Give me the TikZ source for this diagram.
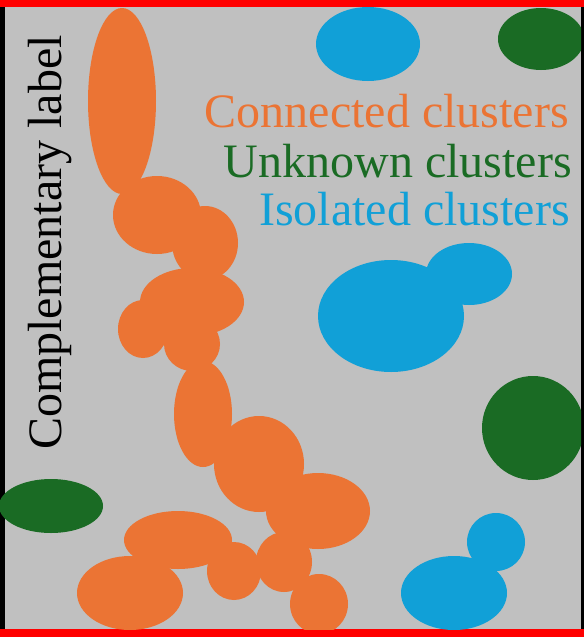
\documentclass[tikz,border=0pt]{standalone}
\usepackage{fontspec}
\setmainfont{Liberation Serif}
\usepackage{tikz}

\definecolor{clOrange}{HTML}{EB7434}
\definecolor{clGreen}{HTML}{1A6B24}
\definecolor{clBlue}{HTML}{11A0D7}
\definecolor{clGray}{HTML}{C0C0C0}

\begin{document}
\begin{tikzpicture}[x=1pt, y=-1pt,
    connected/.style={fill=clOrange},
    unknown/.style={fill=clGreen},
    isolated/.style={fill=clBlue},
    legend/.style={anchor=base east, inner sep=0pt, font=\fontsize{48}{56}\selectfont}]
  \useasboundingbox (0,0) rectangle (584,637);
  % frame: grey field, black sides, red top and bottom
  \fill[clGray] (0,0) rectangle (584,637);
  \fill[black] (0,0) rectangle (5,637);
  \fill[black] (581,0) rectangle (584,637);
  \fill[red] (0,0) rectangle (584,7);
  \fill[red] (0,629) rectangle (584,637);
  \begin{scope}
    \clip (0,7) rectangle (581,629);
    % connected clusters
    \fill[connected] (122,101) ellipse [x radius=34pt, y radius=93pt];
    \fill[connected] (157,215) ellipse [x radius=44pt, y radius=39pt];
    \fill[connected] (205,243) ellipse [x radius=33pt, y radius=37pt];
    \fill[connected] (192,302) ellipse [x radius=52pt, y radius=34pt];
    \fill[connected] (143,329) ellipse [x radius=25pt, y radius=29pt];
    \fill[connected] (192,344) ellipse [x radius=28pt, y radius=27pt];
    \fill[connected] (203,414) ellipse [x radius=29pt, y radius=53pt];
    \fill[connected] (259,464) ellipse [x radius=45pt, y radius=48pt];
    \fill[connected] (318,511) ellipse [x radius=52pt, y radius=38pt];
    \fill[connected] (178,540) ellipse [x radius=54pt, y radius=29pt];
    \fill[connected] (130,593) ellipse [x radius=53pt, y radius=37pt];
    \fill[connected] (234,571) ellipse [x radius=27pt, y radius=29pt];
    \fill[connected] (284,562) ellipse [x radius=28pt, y radius=30pt];
    \fill[connected] (319,604) ellipse [x radius=29pt, y radius=30pt];
    % isolated clusters
    \fill[isolated] (368,44) ellipse [x radius=52pt, y radius=37pt];
    \fill[isolated] (391,316) ellipse [x radius=73pt, y radius=56pt];
    \fill[isolated] (469,274) ellipse [x radius=43pt, y radius=31pt];
    \fill[isolated] (496,542) ellipse [x radius=29pt, y radius=29pt];
    \fill[isolated] (454,593) ellipse [x radius=53pt, y radius=37pt];
    % unknown clusters
    \fill[unknown] (541,39) ellipse [x radius=43pt, y radius=31pt];
    \fill[unknown] (533,428) ellipse [x radius=51pt, y radius=52pt];
    \fill[unknown] (51,506) ellipse [x radius=52pt, y radius=27pt];
  \end{scope}
  % legend and side label
  \node[legend, text=clOrange] (LC) at (569,127) {Connected clusters};
  \node[legend, text=clGreen] (LU) at (572,177) {Unknown clusters};
  \node[legend, text=clBlue] (LI) at (570,225) {Isolated clusters};
  \node[legend, rotate=90] (CL) at (61,35) {Complementary label};
\end{tikzpicture}
\end{document}
